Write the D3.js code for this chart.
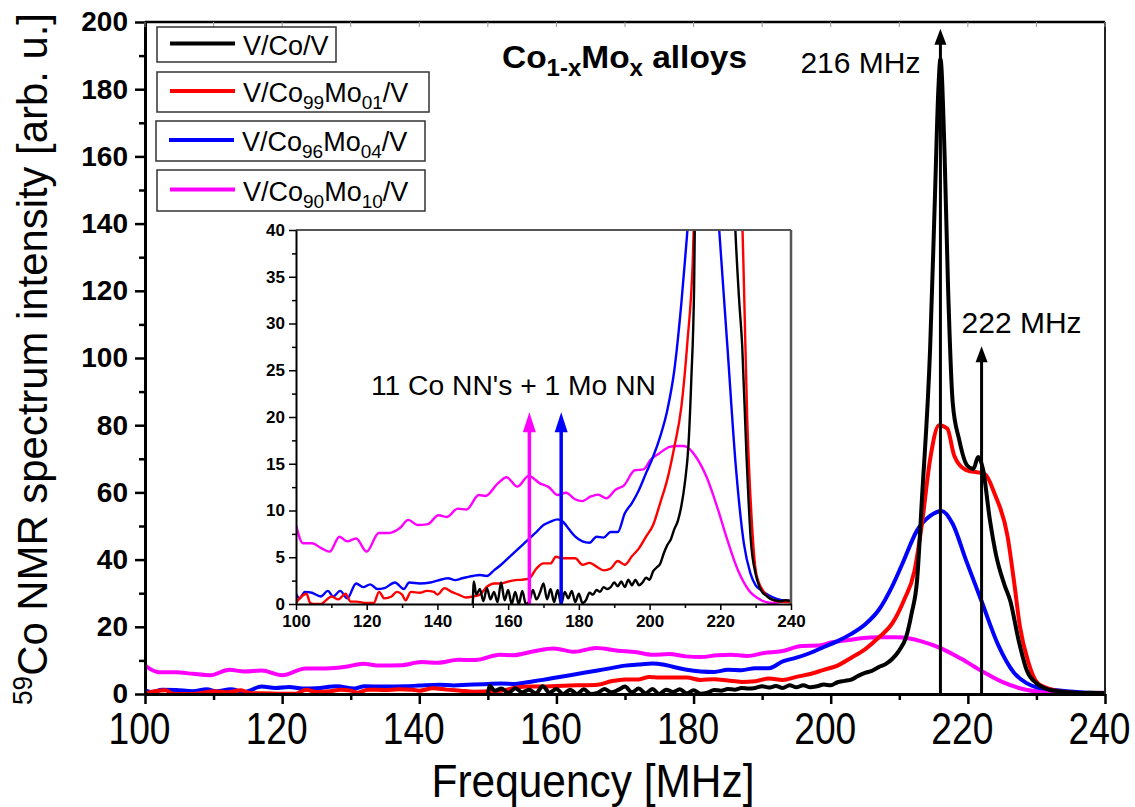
<!DOCTYPE html>
<html><head><meta charset="utf-8">
<script src="https://cdn.jsdelivr.net/npm/d3@7/dist/d3.min.js"></script>
<style>body{margin:0;background:#fff} svg{display:block;font-family:"Liberation Sans",Arial,sans-serif}</style>
</head><body>
<svg id="c" width="1135" height="807"></svg>
<script>
// ---------- data ----------
const freqBlack=[150,150.3,151,152,153,154,155,156,157,158,159,160,161,162,163,164,165,166,167,168,169,170,171,172,173,174,175,176,177,178,179,180,181,182,183,184,185,186,187,188,189,190,191,192,193,194,195,196,197,198,199,200,201,202,203,204,205,206,207,208,209,210,211,211.8,212.6,213.3,214.5,215.2,215.7,216,216.6,217.1,217.8,218.7,219.9,220.8,221.5,222.2,223.2,224.1,225.3,226.2,227.4,228.6,230,231,232,233,234,235.4,237,238.4,240];
const valBlack=[0,2.4,1.0,1.6,0.3,1.7,0.5,1.3,0.2,2.3,0.4,1.5,0,1.3,0,1.4,0,0.3,1.5,0.5,1.2,2.2,0.5,1.6,0.2,1.5,0,1.3,0.6,1.4,0.2,1.1,0.1,0.4,1.2,1.0,1.5,1.3,1.8,1.6,1.8,2.3,1.9,2.4,1.8,2.6,2.0,2.6,2.0,2.3,2.8,2.6,3.5,3.9,4.3,5.4,6.3,6.9,8.0,8.9,10.5,13,17,24,34,58,103,148,180,189,161,122,86.5,76,68,67,70.5,67,52,41.5,32.7,27.6,16,7,3.2,1.9,1.2,0.9,0.6,0.4,0.3,0.4,0.3];

const freqRed=[100,101.5,103,104,105.5,107,108.5,110,112,114,115.5,117,120,122,123.5,125,127,128.5,130,131,132.5,135,137,139,140,142,144,146,148,150,152,154,156,158,160,162,164,166,168,170,172,173.5,175,177,179,181,183,185,187,189,191,193,195,197,199,201,203,205,207,209,210.7,212.2,213.3,214.5,215.8,217,218,219.7,222.5,223.9,225.8,226.7,227.6,228.8,230.2,232.3,234,236,240];
const valRed=[0.1,0.8,1.1,0.1,0,0,0.4,0.8,0.5,1.1,0.25,0.25,0.1,0.1,1.3,0.6,0.8,1.3,1.0,0.4,1.3,1.2,1.4,1.3,1.0,1.7,1.3,1.0,0.7,0.8,1.0,1.85,2.2,2.2,2.4,2.55,2.6,2.75,3.8,4.35,4.35,5.05,4.9,4.9,4.9,4.2,4.4,4.0,3.6,3.8,4.6,4.2,5.1,5.95,7.2,8.45,10.8,13.3,16.8,21.1,28,36.5,50.6,69.9,80,79,71,66.7,65.4,59.6,46.8,34,20,9.6,3.2,1.3,0.6,0.3,0.2];

const freqBlue=[100,101,102.5,104.5,107,109,110.5,112.5,114.5,117,119,121,123,125,128,130.5,132,135,138,140,143,145,147,150,152,154,156,158,160,162,164,166,168,170,172,174,175.5,177,179,181,183,185,187,189,191,193,195,197,199,201,203,205,207,209,210.5,212.6,214.5,216.2,217.8,219.7,222,224.4,226.7,228.5,230,231.5,233,234.4,237.4,240];
const valBlue=[1.1,0.6,1.3,1.2,0.8,1.4,0.8,1.4,0.6,2.2,1.8,2.1,1.6,1.7,2.3,1.6,2.3,2.2,2.3,2.5,2.75,2.55,2.75,3.0,3.1,3.0,3.6,4.2,4.9,5.6,6.3,7.0,7.7,8.45,8.8,9.05,8.8,8.1,7.2,6.7,6.55,7.2,7.1,7.7,7.7,9.7,10.8,12.2,14.0,15.75,17.9,20.7,25.0,32.2,39,48.7,53,54.5,50.6,40,27.6,14.7,6.4,3.3,2.0,1.5,1.1,0.8,0.4,0.3];

const freqMagenta=[100,102,104.5,107,109.5,112.3,114.5,117,120,123.4,126.4,129.3,131.8,134.3,137.3,140.3,142.7,145.7,148.2,151.7,153.6,157.1,159.6,162.6,165.8,169,171.5,174,176.4,178.9,180.9,183.4,185.4,187.8,190.3,192.8,195.8,198.3,200.2,202.7,205.7,207.5,209.7,211.5,213.1,216.1,219.1,222,225,228,231.5,234.4,237.4,240];
const valMagenta=[8.45,6.5,6.5,6.0,5.6,7.2,6.7,7.0,5.6,7.6,7.6,8.1,9.0,8.45,8.55,9.5,9.3,10.2,10.1,11.65,11.55,12.9,13.55,12.55,13.7,12.9,12.5,11.65,11.9,11.2,11.0,11.5,11.7,11.3,12.2,12.7,14.3,14.4,15.4,16.1,16.8,16.9,16.9,16.5,15.75,13.6,10.4,6.85,3.6,1.5,0.43,0.1,0.25,0.4];

const seriesColors=["#000000","#ff0000","#0000ff","#ff00ff"];
const legendParts=[
  [["V/Co/V",0]],
  [["V/Co",0],["99",1],["Mo",0],["01",1],["/V",0]],
  [["V/Co",0],["96",1],["Mo",0],["04",1],["/V",0]],
  [["V/Co",0],["90",1],["Mo",0],["10",1],["/V",0]]
];
const xTicks=[100,120,140,160,180,200,220,240];
const xMinor=[110,130,150,170,190,210,230];
const yTicks=[0,20,40,60,80,100,120,140,160,180,200];
const yMinor=[10,30,50,70,90,110,130,150,170,190];
const insetYTicks=[0,5,10,15,20,25,30,35,40];
const insetYMinor=[2.5,7.5,12.5,17.5,22.5,27.5,32.5,37.5];
const peakLines=[{f:216,top:198,label:"216 MHz"},{f:222,top:103.5,label:"222 MHz"}];
const insetArrows=[{f:166,top:20.5,color:"#ff00ff"},{f:175,top:20.5,color:"#0000ff"}];

// ---------- drawing ----------
const svg=d3.select("#c");
const FONT='"Liberation Sans",Arial,sans-serif';
const x=d3.scaleLinear([100,240],[145,1105]);
const y=d3.scaleLinear([0,200],[694,22]);
const xi=d3.scaleLinear([100,240],[296,791]);
const yi=d3.scaleLinear([0,40],[604,230]);

const series=[
  {f:freqMagenta,v:valMagenta,c:seriesColors[3]},
  {f:freqBlue,v:valBlue,c:seriesColors[2]},
  {f:freqRed,v:valRed,c:seriesColors[1]},
  {f:freqBlack,v:valBlack,c:seriesColors[0]}
];

const defs=svg.append("defs");
defs.append("clipPath").attr("id","mainclip").append("rect")
  .attr("x",x(100)).attr("y",y(200)).attr("width",x(240)-x(100)).attr("height",y(0)-y(200));
defs.append("clipPath").attr("id","insetclip").append("rect")
  .attr("x",xi(100)).attr("y",yi(40)).attr("width",xi(240)-xi(100)).attr("height",yi(0)-yi(40));

// main curves
const gMain=svg.append("g").attr("clip-path","url(#mainclip)");
series.forEach(s=>{
  const line=d3.line().x(d=>x(d[0])).y(d=>y(d[1])).curve(d3.curveMonotoneX);
  gMain.append("path").attr("d",line(s.f.map((f,i)=>[f,s.v[i]])))
    .attr("fill","none").attr("stroke",s.c).attr("stroke-width",4).attr("stroke-linejoin","round");
});

// main axes
function styleAxis(g,w){g.select(".domain").attr("stroke","#000").attr("stroke-width",w);
  g.selectAll(".tick line").attr("stroke","#000").attr("stroke-width",w-0.5);}
const gx=svg.append("g").attr("transform",`translate(0,${y(0)})`)
  .call(d3.axisBottom(x).tickValues(xTicks).tickSize(10).tickSizeOuter(0));
styleAxis(gx,3);
gx.selectAll("text").attr("font-family",FONT).attr("font-size",44).attr("fill","#000")
  .attr("x",-6).attr("y",50).attr("dy",0).attr("textLength",62).attr("lengthAdjust","spacingAndGlyphs");
const gxm=svg.append("g").attr("transform",`translate(0,${y(0)})`)
  .call(d3.axisBottom(x).tickValues(xMinor).tickSize(6).tickFormat(""));
gxm.select(".domain").remove(); gxm.selectAll("line").attr("stroke","#000").attr("stroke-width",2.5);

const gy=svg.append("g").attr("transform",`translate(${x(100)},0)`)
  .call(d3.axisLeft(y).tickValues(yTicks).tickSize(10).tickPadding(7).tickSizeOuter(0));
styleAxis(gy,3);
gy.selectAll("text").attr("font-family",FONT).attr("font-size",28).attr("font-weight","bold").attr("fill","#000");
const gym=svg.append("g").attr("transform",`translate(${x(100)},0)`)
  .call(d3.axisLeft(y).tickValues(yMinor).tickSize(6).tickFormat(""));
gym.select(".domain").remove(); gym.selectAll("line").attr("stroke","#000").attr("stroke-width",2.5);

// top & right borders
svg.append("line").attr("x1",x(100)).attr("x2",x(240)).attr("y1",y(200)).attr("y2",y(200))
  .attr("stroke","#000").attr("stroke-width",2.5);
svg.append("line").attr("x1",x(240)).attr("x2",x(240)).attr("y1",y(200)).attr("y2",y(0))
  .attr("stroke","#222").attr("stroke-width",2);
svg.append("g").selectAll("line").data(xTicks.concat(xMinor)).join("line")
  .attr("x1",d=>x(d)).attr("x2",d=>x(d)).attr("y1",y(200)).attr("y2",y(200)+5)
  .attr("stroke","#999").attr("stroke-width",1);

// axis titles
svg.append("text").attr("x",(x(100)+x(240))/2-32).attr("y",797).attr("text-anchor","middle")
  .attr("font-family",FONT).attr("font-size",46).attr("textLength",323).attr("lengthAdjust","spacingAndGlyphs")
  .text("Frequency [MHz]");
const yt=svg.append("text").attr("transform",`translate(47,${(y(0)+y(200))/2+1}) rotate(-90)`)
  .attr("text-anchor","middle").attr("font-family",FONT).attr("font-size",43)
  .attr("textLength",692).attr("lengthAdjust","spacingAndGlyphs");
yt.append("tspan").attr("font-size",27).attr("dy",-15).text("59");
yt.append("tspan").attr("dy",15).text("Co NMR spectrum intensity [arb. u.]");

// peak arrows
function arrow(g,xp,y0,y1,color,w,hw,hh){
  g.append("line").attr("x1",xp).attr("x2",xp).attr("y1",y0).attr("y2",y1+hh-1)
    .attr("stroke",color).attr("stroke-width",w);
  g.append("path").attr("d",`M${xp},${y1} L${xp-hw/2},${y1+hh} L${xp+hw/2},${y1+hh} Z`).attr("fill",color);
}
peakLines.forEach((p,i)=>{
  arrow(svg,x(p.f),y(0),y(p.top),"#000",3,12,16);
});
svg.append("text").attr("x",x(216)-20).attr("y",73).attr("text-anchor","end")
  .attr("font-family",FONT).attr("font-size",30).text(peakLines[0].label);
svg.append("text").attr("x",x(222)-20).attr("y",333).attr("text-anchor","start")
  .attr("font-family",FONT).attr("font-size",30).text(peakLines[1].label);

// title
const tt=svg.append("text").attr("x",502).attr("y",68).attr("font-family",FONT)
  .attr("font-size",32).attr("font-weight","bold").attr("textLength",245).attr("lengthAdjust","spacingAndGlyphs");
tt.append("tspan").text("Co");
tt.append("tspan").attr("font-size",23).attr("dy",8).text("1-x");
tt.append("tspan").attr("dy",-8).text("Mo");
tt.append("tspan").attr("font-size",23).attr("dy",8).text("x");
tt.append("tspan").attr("dy",-8).text(" alloys");

// legend
const legBoxes=[[157,27,179,35],[157,72,272,40],[156,121,269,40],[157,170,268,41]];
legendParts.forEach((parts,i)=>{
  const b=legBoxes[i];
  svg.append("rect").attr("x",b[0]).attr("y",b[1]).attr("width",b[2]).attr("height",b[3])
    .attr("fill","#fff").attr("stroke","#333").attr("stroke-width",1.5);
  const ly=b[1]+b[3]/2-1;
  svg.append("line").attr("x1",b[0]+13).attr("x2",b[0]+78).attr("y1",ly).attr("y2",ly)
    .attr("stroke",seriesColors[i]).attr("stroke-width",4);
  const t=svg.append("text").attr("x",b[0]+86).attr("y",b[1]+b[3]/2+10)
    .attr("font-family",FONT).attr("font-size",27);
  let sub=false;
  parts.forEach(p=>{
    const ts=t.append("tspan").text(p[0]);
    if(p[1]&&!sub){ts.attr("font-size",19).attr("dy",7);sub=true;}
    else if(!p[1]&&sub){ts.attr("dy",-7);sub=false;}
    else if(p[1]) ts.attr("font-size",19);
  });
});

// ---------- inset ----------
svg.append("rect").attr("x",xi(100)).attr("y",yi(40)).attr("width",xi(240)-xi(100)).attr("height",yi(0)-yi(40))
  .attr("fill","#fff");
const gIn=svg.append("g").attr("clip-path","url(#insetclip)");
series.forEach(s=>{
  const line=d3.line().x(d=>xi(d[0])).y(d=>yi(d[1])).curve(d3.curveMonotoneX);
  gIn.append("path").attr("d",line(s.f.map((f,i)=>[f,s.v[i]])))
    .attr("fill","none").attr("stroke",s.c).attr("stroke-width",2.4).attr("stroke-linejoin","round");
});
insetArrows.forEach(a=>arrow(svg,xi(a.f),yi(0),yi(a.top),a.color,3.5,13,20));
svg.append("text").attr("x",xi(121.2)).attr("y",yi(22.4)).attr("font-family",FONT)
  .attr("font-size",27).attr("textLength",285).attr("lengthAdjust","spacingAndGlyphs").text("11 Co NN's + 1 Mo NN");

svg.append("line").attr("x1",xi(100)).attr("x2",xi(240)).attr("y1",yi(40)).attr("y2",yi(40))
  .attr("stroke","#555").attr("stroke-width",2);
svg.append("line").attr("x1",xi(240)).attr("x2",xi(240)).attr("y1",yi(40)).attr("y2",yi(0))
  .attr("stroke","#555").attr("stroke-width",2.5);
const gix=svg.append("g").attr("transform",`translate(0,${yi(0)})`)
  .call(d3.axisBottom(xi).tickValues(xTicks).tickSize(6).tickSizeOuter(0));
styleAxis(gix,2);
gix.selectAll("text").attr("font-family",FONT).attr("font-size",17).attr("font-weight","bold")
  .attr("fill","#000").attr("y",23).attr("dy",0);
const gixm=svg.append("g").attr("transform",`translate(0,${yi(0)})`)
  .call(d3.axisBottom(xi).tickValues(xMinor).tickSize(4).tickFormat(""));
gixm.select(".domain").remove(); gixm.selectAll("line").attr("stroke","#000").attr("stroke-width",1.5);
const giy=svg.append("g").attr("transform",`translate(${xi(100)},0)`)
  .call(d3.axisLeft(yi).tickValues(insetYTicks).tickSize(7).tickPadding(4).tickSizeOuter(0));
styleAxis(giy,2);
giy.selectAll("text").attr("font-family",FONT).attr("font-size",17).attr("font-weight","bold").attr("fill","#000");
const giym=svg.append("g").attr("transform",`translate(${xi(100)},0)`)
  .call(d3.axisLeft(yi).tickValues(insetYMinor).tickSize(4).tickFormat(""));
giym.select(".domain").remove(); giym.selectAll("line").attr("stroke","#000").attr("stroke-width",1.5);
</script>
</body></html>
